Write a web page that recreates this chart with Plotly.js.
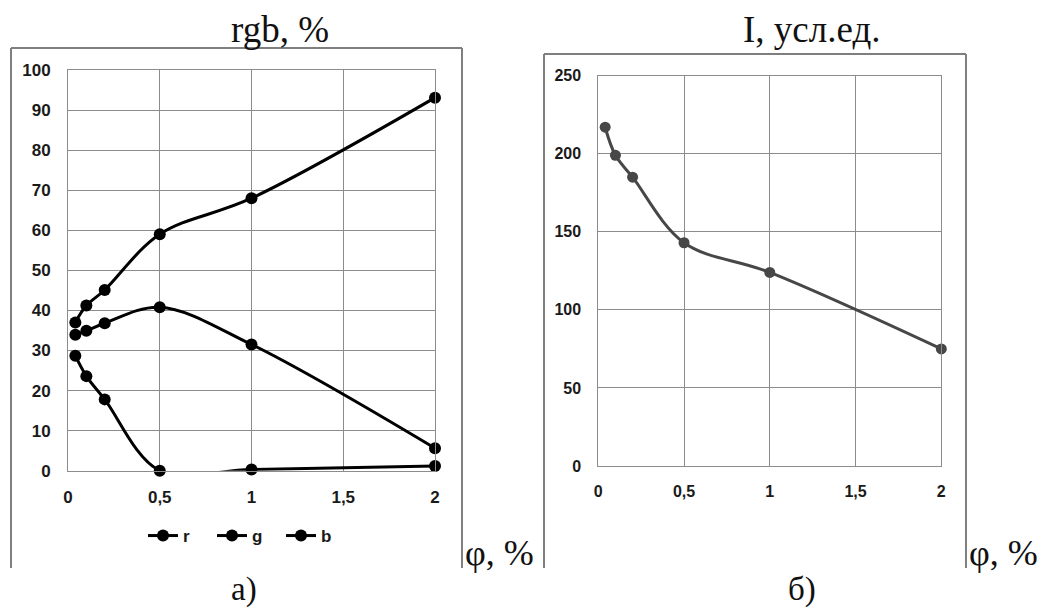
<!DOCTYPE html>
<html>
<head>
<meta charset="utf-8">
<script src="https://cdn.plot.ly/plotly-3.0.1.min.js"></script>
<style>html,body{margin:0;padding:0;background:#fff;}#chart{width:1038px;height:612px;}</style>
</head>
<body>
<div id="chart"></div>
<script>
// ---- data ----
const phi = [0.04, 0.1, 0.2, 0.5, 1, 2];
const rVals = [28.7, 23.6, 17.8, 0, 0.3, 1.2];
const gVals = [33.9, 34.9, 36.8, 40.8, 31.5, 5.6];
const bVals = [37.0, 41.2, 45.1, 59.0, 68.0, 93.1];
const iVals = [217, 199, 185, 143, 124, 75];
const seriesNames = ["r", "g", "b"];
const xTickVals = [0, 0.5, 1, 1.5, 2];
const xTickText = ["0", "0,5", "1", "1,5", "2"];
const titleLeft = "rgb, %";
const titleRight = "I, усл.ед.";
const xLabel = "φ, %";
const captionLeft = "а)";
const captionRight = "б)";

// ---- layout helpers (pixel -> paper) ----
const W = 1038, H = 612;
const px = v => v / W;
const py = v => 1 - v / H;

const leftSeries = [rVals, gVals, bVals];
const traces = leftSeries.map((vals, i) => ({
  x: phi, y: vals, name: seriesNames[i], type: 'scatter', mode: 'lines+markers',
  line: {color: '#000', width: 3, shape: 'spline', smoothing: 1},
  marker: {color: '#000', size: 12},
  cliponaxis: false, xaxis: 'x', yaxis: 'y', showlegend: true
}));
traces.push({
  x: phi, y: iVals, name: 'I', type: 'scatter', mode: 'lines+markers',
  line: {color: '#474747', width: 3, shape: 'spline', smoothing: 1},
  marker: {color: '#474747', size: 11},
  cliponaxis: false, xaxis: 'x2', yaxis: 'y2', showlegend: false
});

const tf = s => ({family: 'Liberation Sans', size: s, color: '#1a1a1a', weight: 700});
const gridC = '#8c8c8c';
function xa(domain, anchor, fs) {
  return {domain, anchor, range: [0, 2], tickmode: 'array', tickvals: xTickVals, ticktext: xTickText,
    showgrid: true, gridcolor: gridC, gridwidth: 1, zeroline: false,
    showline: true, linecolor: gridC, linewidth: 1, mirror: true,
    ticks: '', ticklabelstandoff: 11, tickfont: tf(fs), fixedrange: true};
}
function ya(domain, max, dtick, anchor, fs) {
  return {domain, anchor, range: [0, max], dtick,
    showgrid: true, gridcolor: gridC, gridwidth: 1, zeroline: false,
    showline: true, linecolor: gridC, linewidth: 1, mirror: true,
    ticks: '', ticklabelstandoff: 13, tickfont: tf(fs), fixedrange: true};
}

const serif = s => ({family: 'Liberation Serif', size: s, color: '#111'});
const borderC = '#7f7f7f';
const ln = (x0, y0, x1, y1) => ({type: 'line', xref: 'paper', yref: 'paper', x0: px(x0), x1: px(x1), y0: py(y0), y1: py(y1), line: {color: borderC, width: 2}});
const shapes = [
  ln(11, 48, 462, 48), ln(11, 48, 11, 568), ln(462, 48, 462, 568),
  ln(544, 54, 966, 54), ln(544, 54, 544, 568), ln(966, 54, 966, 568)
];

const ann = (text, x, y, xanchor, s) => ({text, x: px(x), y: py(y), xref: 'paper', yref: 'paper', xanchor, yanchor: 'middle', showarrow: false, font: serif(s)});
const annotations = [
  ann(titleLeft, 280, 29, 'center', 37),
  ann(titleRight, 811, 29, 'center', 37),
  ann(xLabel, 463, 553, 'left', 36),
  ann(xLabel, 967, 553, 'left', 36),
  ann(captionLeft, 244, 589, 'center', 33),
  ann(captionRight, 802, 589, 'center', 33)
];

const layout = {
  width: W, height: H,
  margin: {l: 0, r: 0, t: 0, b: 0},
  paper_bgcolor: '#fff', plot_bgcolor: '#fff',
  xaxis: xa([px(68), px(435)], 'y', 17),
  yaxis: ya([py(470.7), py(70)], 100, 10, 'x', 17),
  xaxis2: xa([px(598.3), px(941.3)], 'y2', 16),
  yaxis2: ya([py(466), py(75.7)], 250, 50, 'x2', 16),
  showlegend: true,
  legend: {orientation: 'h', x: px(143), y: py(536), xanchor: 'left', yanchor: 'middle',
    entrywidth: 24, entrywidthmode: 'pixels',
    font: {family: 'Liberation Sans', size: 17, color: '#1a1a1a', weight: 700},
    bgcolor: 'rgba(0,0,0,0)'},
  shapes, annotations
};

Plotly.newPlot('chart', traces, layout, {displayModeBar: false, staticPlot: true});
</script>
</body>
</html>
